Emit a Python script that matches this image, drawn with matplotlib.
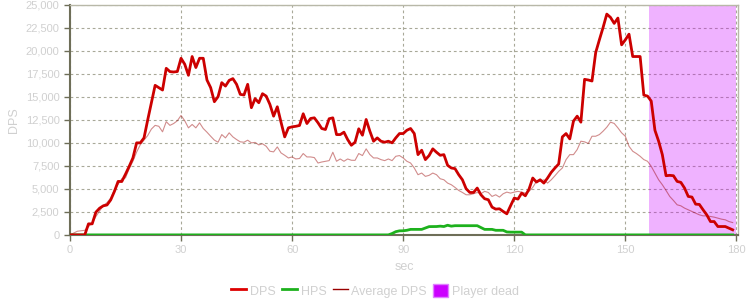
import numpy as np
import matplotlib
matplotlib.use("Agg")
import matplotlib.pyplot as plt
from matplotlib.ticker import FuncFormatter
from matplotlib.patches import Patch
from matplotlib.lines import Line2D

plt.rcParams['font.family'] = ['Liberation Sans', 'DejaVu Sans']

sec = list(range(180))

dps = [0, 0, 0, 0, 0, 1200, 1200, 2470, 2900, 3160,
       3250, 3800, 4720, 5810, 5800, 6600, 7450, 8360, 10000, 10000,
       10540, 12500, 14360, 16250, 16000, 15740, 18100, 17740, 17700, 17750,
       19190, 18540, 17340, 19380, 18180, 19190, 19190, 16830, 16000, 14470,
       15020, 16540, 16170, 16790, 16980, 16360, 15270, 15200, 16360, 13820,
       14800, 14360, 15340, 15080, 14180, 12900, 13920, 12250, 10650, 11630,
       11740, 11800, 11890, 13160, 12100, 12650, 12720, 12180, 11560, 11450,
       12620, 12720, 10900, 10900, 11160, 10360, 9740, 10070, 11530, 10830,
       12540, 11270, 10180, 10540, 10180, 10070, 10180, 10000, 10540, 11010,
       11010, 11370, 11560, 11010, 8720, 9200, 8180, 8620, 9350, 8980,
       8650, 8720, 7560, 7270, 7200, 6540, 5990, 5020, 4610, 4610,
       5090, 4360, 3930, 3820, 3020, 2800, 2840, 2550, 2290, 3160,
       4000, 3890, 4540, 4250, 4980, 6180, 5740, 5990, 5630, 6180,
       6800, 7270, 7700, 10650, 11010, 10430, 12360, 12900, 12250, 16900,
       16830, 16720, 19810, 21200, 22540, 23990, 23630, 22980, 23560, 20650,
       21190, 21810, 19380, 19380, 19380, 15190, 15080, 14540, 11370, 10180,
       8720, 6430, 6470, 6430, 5810, 5710, 5090, 4180, 4110, 3340,
       3310, 2730, 2180, 1450, 1450, 910, 910, 910, 730, 550]

avg_dps = [0, 200, 400, 450, 500, 900, 1300, 2000, 2600, 3200,
           3500, 4000, 4900, 5500, 6100, 6200, 7200, 8000, 9000, 9800,
           10300, 10800, 11500, 11900, 11800, 11200, 12300, 11900, 12100, 12400,
           12980, 12400, 11630, 12000, 11630, 12180, 11560, 11160, 10720, 10300,
           10070, 10900, 10540, 11090, 10650, 10360, 10110, 10070, 10290, 10000,
           10050, 9780, 9900, 9630, 9090, 9020, 9560, 8910, 8650, 8360,
           8470, 8250, 8300, 8840, 8470, 8470, 8400, 7810, 7920, 8000,
           8070, 8980, 8000, 8250, 8000, 8250, 8110, 8100, 8840, 8620,
           9350, 8730, 8360, 8360, 8180, 8070, 8250, 8070, 8540, 8620,
           8360, 8000, 7810, 7270, 6540, 6720, 6360, 6470, 6720, 6540,
           6100, 5990, 5630, 5450, 5160, 4830, 4610, 4360, 4360, 4470,
           4610, 4470, 4730, 4610, 4180, 4360, 4110, 4470, 4650, 4540,
           4650, 4730, 4650, 4540, 4730, 5160, 5810, 5810, 5990, 5630,
           5990, 6430, 6900, 7270, 8180, 8720, 8720, 9270, 10180, 10110,
           9930, 10720, 10720, 10900, 11270, 11700, 12250, 12110, 11630, 11090,
           10720, 9630, 9090, 8840, 8540, 8180, 8000, 7450, 6720, 5990,
           5450, 4830, 4180, 3740, 3270, 3160, 2910, 2730, 2550, 2360,
           2180, 2070, 2070, 2000, 1930, 1820, 1710, 1640, 1450, 1340]

hps = [0] * 87 + [150, 350, 440, 450, 500, 600, 600, 600, 600, 750,
                  900, 910, 910, 950, 910, 1050, 950, 1000, 1000, 1000,
                  1000, 1000, 1000, 1000, 800, 600, 600, 600, 500, 500,
                  500, 320, 300, 300, 300, 300] + [0] * 57

dead_start = 156.5
dead_end = 180

fig = plt.figure(figsize=(7.5, 3), dpi=100)
ax = fig.add_axes([0.0933, 0.217, 0.891, 0.767])

ax.axvspan(dead_start, dead_end, color='#cc00ff', alpha=0.3, lw=0, zorder=1)
ax.plot(sec, hps, color='#1db11d', lw=2, zorder=3)
ax.plot(sec, avg_dps, color='#990000', lw=0.8, alpha=0.45, zorder=4)
ax.plot(sec, dps, color='#cc0000', lw=2, zorder=5)

ax.set_xlim(0, 180.5)
ax.set_ylim(0, 25000)
ax.set_xticks(range(0, 181, 30))
ax.set_yticks(range(0, 25001, 2500))
ax.yaxis.set_major_formatter(FuncFormatter(lambda v, p: f"{int(v):,}"))

ax.grid(True, color='#a8a898', ls=(0, (2.5, 2.5)), lw=0.8)
ax.set_axisbelow(True)

for s in ['top', 'right']:
    ax.spines[s].set_color('#b8b8a8')
    ax.spines[s].set_linewidth(1)
for s in ['left', 'bottom']:
    ax.spines[s].set_color('#6e6e58')
    ax.spines[s].set_linewidth(1.5)

ax.tick_params(axis='both', colors='#6e6e58', labelcolor='#d0d0d0',
               labelsize=8, length=4, width=1)
ax.set_ylabel('DPS', color='#d0d0d0', fontsize=9, labelpad=4)
ax.set_xlabel('sec', color='#d0d0d0', fontsize=9, labelpad=4)

handles = [Line2D([], [], color='#dd0000', lw=2),
           Line2D([], [], color='#1db11d', lw=2),
           Line2D([], [], color='#990000', lw=1),
           Patch(facecolor='#cc00ff', edgecolor='#e080ff')]
labels = ['DPS', 'HPS', 'Average DPS', 'Player dead']
leg = fig.legend(handles, labels, loc='lower center', ncol=4, frameon=False,
                 fontsize=9, bbox_to_anchor=(0.5, -0.03), handlelength=1.2,
                 handletextpad=0.3, columnspacing=0.5, handleheight=1.2)
for t in leg.get_texts():
    t.set_color('#d0d0d0')

fig.savefig('out.png', dpi=100)
